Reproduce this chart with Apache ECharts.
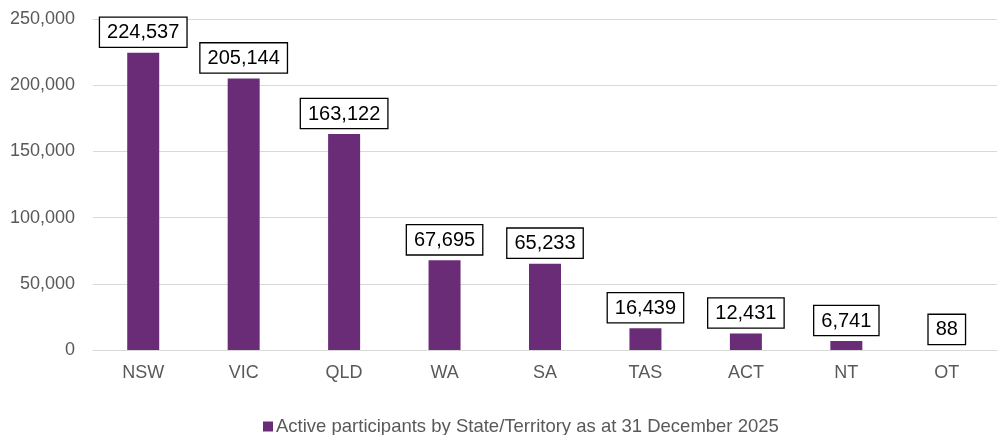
<!DOCTYPE html>
<html><head><meta charset="utf-8">
<script src="https://cdn.jsdelivr.net/npm/echarts@6/dist/echarts.min.js"></script>
<style>html,body{margin:0;padding:0;background:#fff}#c{width:999px;height:435px}</style>
</head><body><div id="c"></div>
<script>
const categories = ['NSW','VIC','QLD','WA','SA','TAS','ACT','NT','OT'];
const values = [224537,205144,163122,67695,65233,16439,12431,6741,88];
const seriesName = 'Active participants by State/Territory as at 31 December 2025';
const chart = echarts.init(document.getElementById('c'));
chart.setOption({
  animation:false,
  textStyle:{fontFamily:'Liberation Sans'},
  grid:{left:93,right:2,top:19,bottom:85,containLabel:false},
  legend:{top:412,left:258,itemWidth:10,itemHeight:10,itemGap:4,icon:'rect',
    textStyle:{fontSize:18.5,color:'#595959',fontFamily:'Liberation Sans',padding:[0,0,0,-2]},data:[seriesName]},
  xAxis:{type:'category',data:categories,axisTick:{show:false},
    axisLine:{lineStyle:{color:'#d9d9d9',width:1}},
    axisLabel:{fontSize:18,color:'#595959',margin:14}},
  yAxis:{type:'value',min:0,max:250000,interval:50000,
    axisLine:{show:false},axisTick:{show:false},
    splitLine:{lineStyle:{color:'#d9d9d9'}},
    axisLabel:{fontSize:18,color:'#595959',margin:18,formatter:v=>v.toLocaleString('en-US')}},
  series:[{name:seriesName,type:'bar',data:values,barWidth:32,itemStyle:{color:'#6b2c77'},
    label:{show:true,position:'top',distance:6,fontSize:20,color:'#000',
      backgroundColor:'#fff',borderColor:'#000',borderWidth:1.3,padding:[5,7,4,7],
      formatter:p=>p.value.toLocaleString('en-US')}}]
});
</script></body></html>
